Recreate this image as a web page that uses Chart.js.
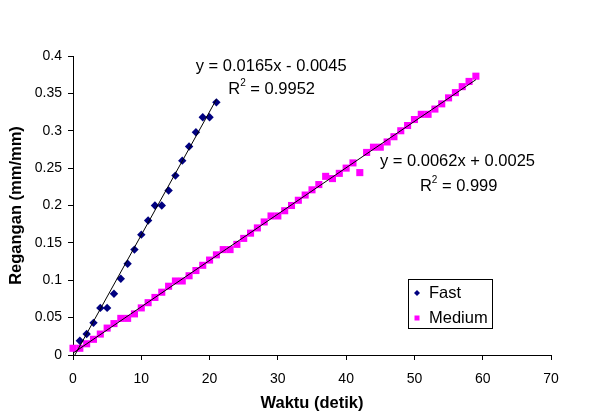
<!DOCTYPE html>
<html>
<head>
<meta charset="utf-8">
<script src="https://cdn.jsdelivr.net/npm/chart.js@4"></script>
<style>
  body { margin: 0; background: #fff; }
  #wrap { width: 606px; height: 417px; }
</style>
</head>
<body>
<div id="wrap"><canvas id="strainChart" width="606" height="417"></canvas></div>
<script>
// Data
const fastTime = [1, 2, 3, 4, 5, 6, 7, 8, 9, 10, 11, 12, 13, 14, 15, 16, 17, 18, 19, 20, 21];
const fastStrain = [0.019, 0.028, 0.043, 0.063, 0.063, 0.082, 0.102, 0.122, 0.141, 0.161, 0.180,
  0.200, 0.200, 0.220, 0.240, 0.260, 0.279, 0.298, 0.318, 0.318, 0.338];

const mediumTime = [0, 1, 2, 3, 4, 5, 6, 7, 8, 9, 10, 11, 12, 13, 14, 15, 16, 17, 18, 19,
  20, 21, 22, 23, 24, 25, 26, 27, 28, 29, 30, 31, 32, 33, 34, 35, 36, 37, 38, 39,
  40, 41, 42, 43, 44, 45, 46, 47, 48, 49, 50, 51, 52, 53, 54, 55, 56, 57, 58, 59];
const mediumStrain = [0.009, 0.009, 0.015, 0.021, 0.028, 0.036, 0.042, 0.049, 0.049, 0.055,
  0.063, 0.070, 0.077, 0.084, 0.092, 0.099, 0.099, 0.106, 0.113, 0.120,
  0.127, 0.134, 0.141, 0.141, 0.148, 0.156, 0.163, 0.170, 0.178, 0.186,
  0.186, 0.193, 0.200, 0.207, 0.214, 0.221, 0.228, 0.239, 0.236, 0.243,
  0.250, 0.257, 0.244, 0.271, 0.278, 0.278, 0.285, 0.292, 0.300, 0.307,
  0.315, 0.322, 0.322, 0.329, 0.336, 0.344, 0.351, 0.359, 0.366, 0.373];

// Trendline coefficients as printed on the chart
const fastTrend = { slope: 0.0165, intercept: -0.0045, from: 0, to: 21 };
const mediumTrend = { slope: 0.0062, intercept: 0.0025, from: 0, to: 59 };
const fastEquation = ['y = 0.0165x - 0.0045', '0.9952'];
const mediumEquation = ['y = 0.0062x + 0.0025', '0.999'];

const xTicks = ['0', '10', '20', '30', '40', '50', '60', '70'];
const yTicks = ['0', '0.05', '0.1', '0.15', '0.2', '0.25', '0.3', '0.35', '0.4'];

const FONT = '"Liberation Sans", Arial, sans-serif';

function toPoints(xs, ys) {
  return xs.map((x, i) => ({ x: x, y: ys[i] }));
}

function trendPoints(t) {
  return [
    { x: t.from, y: t.slope * t.from + t.intercept },
    { x: t.to, y: t.slope * t.to + t.intercept }
  ];
}

// Equations, R² labels and the boxed legend
const annotations = {
  id: 'annotations',
  afterDatasetsDraw(chart) {
    const ctx = chart.ctx;
    const xs = chart.scales.x;
    const ys = chart.scales.y;
    ctx.save();
    ctx.fillStyle = '#000';
    ctx.textBaseline = 'middle';
    ctx.textAlign = 'left';

    function rSquared(px, py, value) {
      ctx.font = '16.5px ' + FONT;
      ctx.fillText('R', px, py);
      const w = ctx.measureText('R').width;
      ctx.font = '10px ' + FONT;
      ctx.fillText('2', px + w, py - 6);
      const w2 = ctx.measureText('2').width;
      ctx.font = '16.5px ' + FONT;
      ctx.fillText(' = ' + value, px + w + w2, py);
    }

    ctx.font = '16.5px ' + FONT;
    ctx.fillText(fastEquation[0], xs.getPixelForValue(17.97), ys.getPixelForValue(0.3857));
    rSquared(xs.getPixelForValue(22.74), ys.getPixelForValue(0.3554), fastEquation[1]);
    ctx.font = '16.5px ' + FONT;
    ctx.fillText(mediumEquation[0], xs.getPixelForValue(44.95), ys.getPixelForValue(0.2586));
    rSquared(xs.getPixelForValue(50.8), ys.getPixelForValue(0.2261), mediumEquation[1]);

    // legend box
    const bx = 408, by = 279, bw = 84, bh = 49;
    ctx.fillStyle = '#fff';
    ctx.fillRect(bx, by, bw, bh);
    ctx.strokeStyle = '#000';
    ctx.lineWidth = 1;
    ctx.strokeRect(bx + 0.5, by + 0.5, bw, bh);

    const items = chart.data.datasets.filter(d => d.inLegend);
    items.forEach((d, i) => {
      const cy = by + 14 + i * 25;
      const cx = bx + 9;
      ctx.fillStyle = d.backgroundColor;
      if (d.pointStyle === 'rectRot') {
        ctx.beginPath();
        ctx.moveTo(cx, cy - 3);
        ctx.lineTo(cx + 3, cy);
        ctx.lineTo(cx, cy + 3);
        ctx.lineTo(cx - 3, cy);
        ctx.closePath();
        ctx.fill();
      } else {
        ctx.fillRect(cx - 2.5, cy - 2.5, 5, 5);
      }
      ctx.fillStyle = '#000';
      ctx.font = '16.5px ' + FONT;
      ctx.fillText(d.label, bx + 21, cy);
    });
    ctx.restore();
  }
};

const ctx = document.getElementById('strainChart').getContext('2d');
new Chart(ctx, {
  type: 'scatter',
  data: {
    datasets: [
      {
        label: 'fast trend',
        data: trendPoints(fastTrend),
        showLine: true,
        borderColor: '#000',
        borderWidth: 1,
        pointRadius: 0,
        order: 0
      },
      {
        label: 'medium trend',
        data: trendPoints(mediumTrend),
        showLine: true,
        borderColor: '#000',
        borderWidth: 1,
        pointRadius: 0,
        order: 0
      },
      {
        label: 'Fast',
        inLegend: true,
        data: toPoints(fastTime, fastStrain),
        pointStyle: 'rectRot',
        pointRadius: 4.2,
        backgroundColor: '#000080',
        borderColor: '#000080',
        borderWidth: 0,
        clip: false,
        order: 1
      },
      {
        label: 'Medium',
        inLegend: true,
        data: toPoints(mediumTime, mediumStrain),
        pointStyle: 'rect',
        pointRadius: 5,
        backgroundColor: '#ff00ff',
        borderColor: '#ff00ff',
        borderWidth: 0,
        clip: false,
        order: 1
      }
    ]
  },
  options: {
    responsive: false,
    animation: false,
    events: [],
    layout: { padding: { top: 56, right: 55, left: 0, bottom: 0 } },
    plugins: {
      legend: { display: false },
      tooltip: { enabled: false }
    },
    scales: {
      x: {
        type: 'linear',
        min: 0,
        max: 70,
        afterFit: scale => { scale.height = 62; },
        afterBuildTicks: scale => {
          scale.ticks = xTicks.map(t => ({ value: parseFloat(t) }));
        },
        ticks: {
          color: '#000',
          font: { family: FONT, size: 14 },
          padding: 11,
          maxRotation: 0,
          callback: (v, i) => xTicks[i]
        },
        grid: { drawOnChartArea: false, tickLength: 5, color: '#000' },
        border: { color: '#000' },
        title: {
          display: true,
          text: 'Waktu (detik)',
          color: '#000',
          font: { family: FONT, size: 16.5, weight: 'bold' },
          padding: { top: 4, bottom: 4 }
        }
      },
      y: {
        type: 'linear',
        min: 0,
        max: 0.4,
        afterFit: scale => { scale.width = 73; },
        afterBuildTicks: scale => {
          scale.ticks = yTicks.map(t => ({ value: parseFloat(t) }));
        },
        ticks: {
          color: '#000',
          font: { family: FONT, size: 14 },
          padding: 6,
          callback: (v, i) => yTicks[i]
        },
        grid: { drawOnChartArea: false, tickLength: 5, color: '#000' },
        border: { color: '#000' },
        title: {
          display: true,
          text: 'Regangan (mm/mm)',
          color: '#000',
          font: { family: FONT, size: 16.5, weight: 'bold' },
          padding: { top: 7, bottom: 7 }
        }
      }
    }
  },
  plugins: [annotations]
});
</script>
</body>
</html>
